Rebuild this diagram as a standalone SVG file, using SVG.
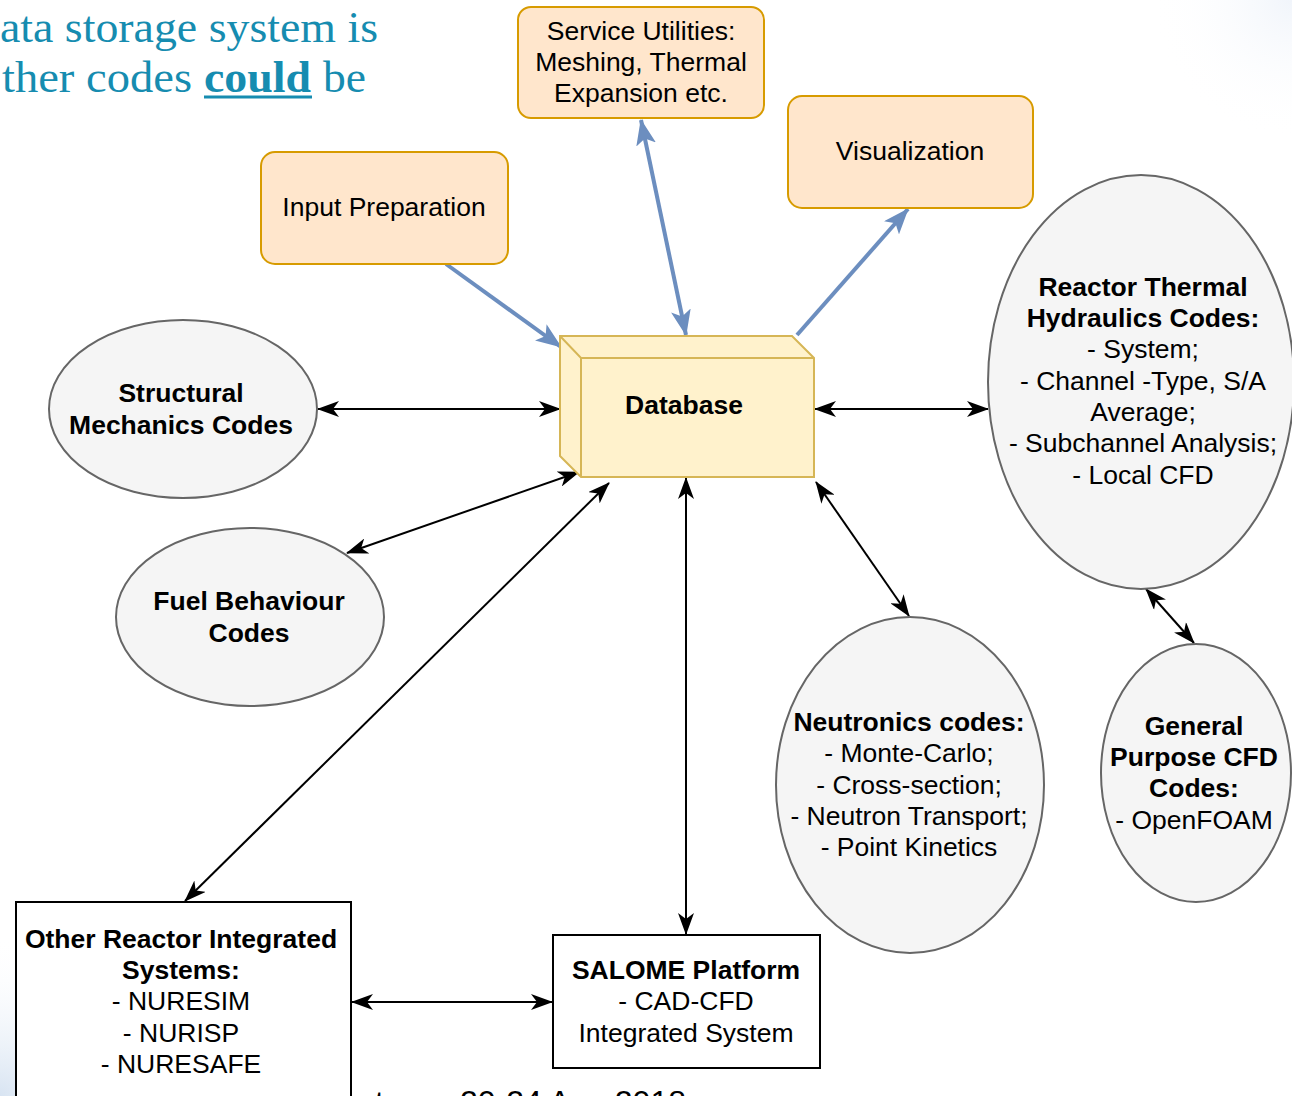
<svg xmlns="http://www.w3.org/2000/svg" width="1292" height="1096" viewBox="0 0 1292 1096">
<defs>
<style>
.t{font-family:"Liberation Sans",Arial,sans-serif;font-size:26.5px;fill:#000;text-anchor:middle}
.b{font-weight:bold}
.ell{fill:#f5f5f5;stroke:#666;stroke-width:2}
.orange{fill:#ffe6cc;stroke:#d79b00;stroke-width:2}
.box{fill:#fff;stroke:#000;stroke-width:2}
.blk{stroke:#000;stroke-width:2;fill:none;marker-end:url(#ab);marker-start:url(#ab)}
.blu{stroke:#6c8ebf;stroke-width:4;fill:none}
.head{font-family:"Liberation Serif","Times New Roman",serif;font-size:44px;fill:#168cb0}
</style>
<marker id="ab" viewBox="0 0 22 16" refX="21" refY="8" markerWidth="22" markerHeight="16" markerUnits="userSpaceOnUse" orient="auto-start-reverse">
<path d="M0,0 L22,8 L0,16 L6,8 z" fill="#000"/>
</marker>
<marker id="au" viewBox="0 0 26 20" refX="25" refY="10" markerWidth="26" markerHeight="20" markerUnits="userSpaceOnUse" orient="auto-start-reverse">
<path d="M0,0 L26,10 L0,20 L6,10 z" fill="#6c8ebf"/>
</marker>
<radialGradient id="bl" cx="0" cy="1096" r="160" gradientUnits="userSpaceOnUse">
<stop offset="0" stop-color="#d8e4f2"/>
<stop offset="1" stop-color="#ffffff" stop-opacity="0"/>
</radialGradient>
<radialGradient id="tr" cx="1292" cy="0" r="140" gradientUnits="userSpaceOnUse">
<stop offset="0" stop-color="#f1f5fb"/>
<stop offset="1" stop-color="#ffffff" stop-opacity="0"/>
</radialGradient>
</defs>
<rect width="1292" height="1096" fill="#fff"/>
<rect width="1292" height="1096" fill="url(#bl)"/>
<rect width="1292" height="1096" fill="url(#tr)"/>

<g id="heading">
<text class="head" x="0" y="42" textLength="378" lengthAdjust="spacingAndGlyphs">ata storage system is</text>
<text class="head" x="2" y="92" textLength="190" lengthAdjust="spacingAndGlyphs">ther codes</text>
<text class="head" x="204" y="92" font-weight="bold" textLength="107" lengthAdjust="spacingAndGlyphs">could</text>
<line x1="204" y1="97" x2="312" y2="97" stroke="#168cb0" stroke-width="3"/>
<text class="head" x="323" y="92" textLength="43" lengthAdjust="spacingAndGlyphs">be</text>
</g>

<g id="connectors">
<line class="blu" x1="446" y1="264" x2="561" y2="347" marker-end="url(#au)"/>
<line class="blu" x1="686" y1="335" x2="641" y2="120" marker-end="url(#au)" marker-start="url(#au)"/>
<line class="blu" x1="797" y1="335" x2="908" y2="209" marker-end="url(#au)"/>
<line class="blk" x1="318" y1="409" x2="560" y2="409"/>
<line class="blk" x1="347" y1="553" x2="579" y2="472"/>
<line class="blk" x1="609" y1="483" x2="185" y2="901"/>
<line class="blk" x1="686" y1="478" x2="686" y2="934"/>
<line class="blk" x1="815" y1="409" x2="988" y2="409"/>
<line class="blk" x1="816" y1="482" x2="909" y2="616"/>
<line class="blk" x1="1146" y1="589" x2="1194" y2="643"/>
<line class="blk" x1="352" y1="1002" x2="552" y2="1002"/>
</g>

<g id="service">
<rect class="orange" x="518" y="7" width="246" height="111" rx="13"/>
<text class="t" x="641" y="40">Service Utilities:</text>
<text class="t" x="641" y="71">Meshing, Thermal</text>
<text class="t" x="641" y="102">Expansion etc.</text>
</g>
<g id="visualization">
<rect class="orange" x="788" y="96" width="245" height="112" rx="14"/>
<text class="t" x="910" y="160">Visualization</text>
</g>
<g id="input">
<rect class="orange" x="261" y="152" width="247" height="112" rx="14"/>
<text class="t" x="384" y="216">Input Preparation</text>
</g>
<g id="database">
<path d="M560,336 L792,336 L814,358 L814,477 L581,477 L560,456 Z" fill="#fff2cc" stroke="#d6b656" stroke-width="2"/>
<path d="M560,336 L581,358 L814,358 M581,358 L581,477" fill="none" stroke="#d6b656" stroke-width="2"/>
<text class="t b" x="684" y="414">Database</text>
</g>
<g id="structural">
<ellipse class="ell" cx="183" cy="409" rx="134" ry="89"/>
<text class="t b" x="181" y="402">Structural</text>
<text class="t b" x="181" y="434">Mechanics Codes</text>
</g>
<g id="fuel">
<ellipse class="ell" cx="250" cy="617" rx="134" ry="89"/>
<text class="t b" x="249" y="610">Fuel Behaviour</text>
<text class="t b" x="249" y="642">Codes</text>
</g>
<g id="thermal">
<ellipse class="ell" cx="1141" cy="382" rx="153" ry="207"/>
<text class="t b" x="1143" y="296">Reactor Thermal</text>
<text class="t b" x="1143" y="327">Hydraulics Codes:</text>
<text class="t" x="1143" y="358">- System;</text>
<text class="t" x="1143" y="390">- Channel -Type, S/A</text>
<text class="t" x="1143" y="421">Average;</text>
<text class="t" x="1143" y="452">- Subchannel Analysis;</text>
<text class="t" x="1143" y="484">- Local CFD</text>
</g>
<g id="neutronics">
<ellipse class="ell" cx="910" cy="785" rx="134" ry="168"/>
<text class="t b" x="909" y="731">Neutronics codes:</text>
<text class="t" x="909" y="762">- Monte-Carlo;</text>
<text class="t" x="909" y="794">- Cross-section;</text>
<text class="t" x="909" y="825">- Neutron Transport;</text>
<text class="t" x="909" y="856">- Point Kinetics</text>
</g>
<g id="cfd">
<ellipse class="ell" cx="1196" cy="773" rx="95" ry="129"/>
<text class="t b" x="1194" y="735">General</text>
<text class="t b" x="1194" y="766">Purpose CFD</text>
<text class="t b" x="1194" y="797">Codes:</text>
<text class="t" x="1194" y="829">- OpenFOAM</text>
</g>
<g id="other">
<rect class="box" x="16" y="902" width="335" height="220"/>
<text class="t b" x="181" y="948">Other Reactor Integrated</text>
<text class="t b" x="181" y="979">Systems:</text>
<text class="t" x="181" y="1010">- NURESIM</text>
<text class="t" x="181" y="1042">- NURISP</text>
<text class="t" x="181" y="1073">- NURESAFE</text>
</g>
<g id="salome">
<rect class="box" x="553" y="935" width="267" height="133"/>
<text class="t b" x="686" y="979">SALOME Platform</text>
<text class="t" x="686" y="1010">- CAD-CFD</text>
<text class="t" x="686" y="1042">Integrated System</text>
</g>
<g id="footer">
<text x="375" y="1113" font-family="Liberation Sans,Arial,sans-serif" font-size="32">t</text>
<text x="460" y="1113" font-family="Liberation Sans,Arial,sans-serif" font-size="32">20-24 Aug 2018</text>
</g>
</svg>
